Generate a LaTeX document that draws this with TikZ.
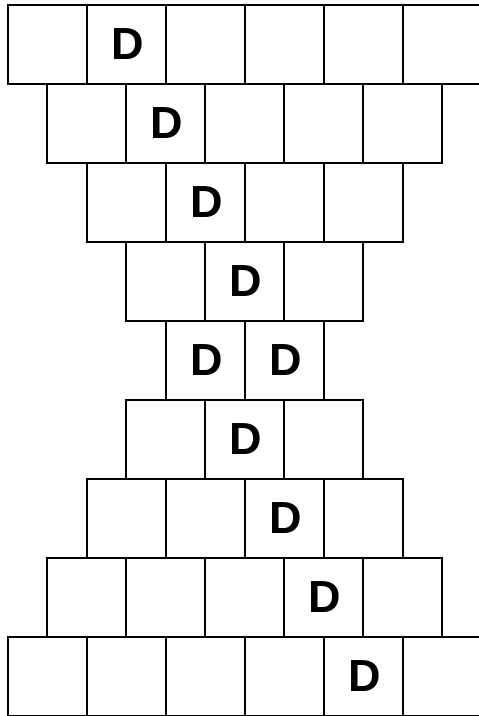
\documentclass[tikz,border=0pt]{standalone}
\usepackage{fontspec}
\setmainfont{Liberation Sans}
\begin{document}
\begin{tikzpicture}[x=1pt,y=-1pt,
  cell/.style={draw, line width=1.3pt, minimum width=79pt, minimum height=79pt, inner sep=0pt,
    font=\fontsize{45}{45}\selectfont\bfseries}]
\useasboundingbox (0,0) rectangle (479,716);
\clip (0,0) rectangle (479,716);
\foreach \yy/\xx/\flags [count=\i] in {
  44.5/8/{0,1,0,0,0,0},
  123.5/47/{0,1,0,0,0},
  202.5/87/{0,1,0,0},
  281.5/126/{0,1,0},
  360.5/166/{1,1},
  439.5/126/{0,1,0},
  518.5/87/{0,0,1,0},
  597.5/47/{0,0,0,1,0},
  676.5/8/{0,0,0,0,1,0}} {
  \foreach \f [count=\j] in \flags {
    \node[cell] (c\i-\j) at ({\xx+39.5+79*(\j-1)}, \yy) {\ifnum\f=1 \hspace{2pt}D\fi};
  }
}
\end{tikzpicture}
\end{document}
